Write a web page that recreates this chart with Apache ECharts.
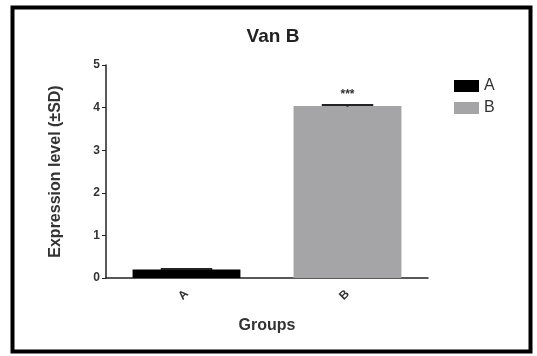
<!DOCTYPE html>
<html><head><meta charset="utf-8">
<script src="https://cdn.jsdelivr.net/npm/echarts@6/dist/echarts.min.js"></script>
<style>html,body{margin:0;padding:0;background:#fff}#c{width:537px;height:356px}</style>
</head><body><div id="c"></div>
<script>
var categories = ['A', 'B'];
var seriesNames = ['A', 'B'];
var means = [0.2, 4.04];
var sds = [0.01, 0.02];
var signif = ['', '***'];
var yTicks = [0, 1, 2, 3, 4, 5];
var colors = ['#000000', '#a5a5a8'];

var chart = echarts.init(document.getElementById('c'));
var FONT = '"Liberation Sans", Arial, sans-serif';
var series = seriesNames.map(function (name, i) {
  var d = categories.map(function (c, j) { return j === i ? means[j] : '-'; });
  return {
    name: name, type: 'bar', stack: 'g', data: d, barWidth: '67%',
    itemStyle: { color: colors[i] }
  };
});
series.push({
  type: 'custom', name: 'err', z: 5, silent: true,
  data: categories.map(function (c, j) { return [j, means[j], sds[j], signif[j]]; }),
  renderItem: function (params, api) {
    var j = api.value(0), m = api.value(1), s = api.value(2);
    var hi = api.coord([j, m + s]);
    var lo = api.coord([j, m - s]);
    var halfW = api.size([1, 0])[0] * 0.16;
    var children = [
      { type: 'line', shape: { x1: hi[0] - halfW, y1: hi[1], x2: hi[0] + halfW, y2: hi[1] }, style: { stroke: '#222', lineWidth: 2 } },
      { type: 'line', shape: { x1: hi[0], y1: hi[1], x2: lo[0], y2: lo[1] }, style: { stroke: '#222', lineWidth: 2 } }
    ];
    var txt = signif[j];
    if (txt) {
      children.push({ type: 'text', x: hi[0], y: hi[1] - 10, style: { text: txt, font: 'bold 12px ' + FONT, fill: '#333', align: 'center', verticalAlign: 'middle' } });
    }
    return { type: 'group', children: children };
  }
});

chart.setOption({
  animation: false,
  title: { text: 'Van B', left: 268, top: 22, textAlign: 'center', textStyle: { fontFamily: FONT, fontSize: 19, fontWeight: 'bold', color: '#222' } },
  legend: {
    data: seriesNames, orient: 'vertical', left: 449, top: 73, itemWidth: 25, itemHeight: 12, itemGap: 6,
    icon: 'rect', textStyle: { fontFamily: FONT, fontSize: 16, color: '#333' }
  },
  grid: { left: 106, right: 109, top: 65, bottom: 78 },
  xAxis: {
    type: 'category', data: categories, name: 'Groups', nameLocation: 'middle', nameGap: 40,
    nameTextStyle: { fontFamily: FONT, fontSize: 16, fontWeight: 'bold', color: '#333' },
    axisLine: { lineStyle: { color: '#222', width: 1.5 } },
    axisTick: { alignWithLabel: true, length: 5, lineStyle: { color: '#222' } },
    axisLabel: { rotate: 45, fontFamily: FONT, fontSize: 12, fontWeight: 'bold', color: '#333', margin: 14 }
  },
  yAxis: {
    type: 'value', min: 0, max: 5, interval: 1, name: 'Expression level (±SD)', nameLocation: 'middle', nameGap: 42,
    nameTextStyle: { fontFamily: FONT, fontSize: 16, fontWeight: 'bold', color: '#333' },
    axisLine: { show: true, lineStyle: { color: '#222', width: 1.5 } },
    axisTick: { show: true, length: 4, lineStyle: { color: '#222' } },
    splitLine: { show: false },
    axisLabel: { fontFamily: FONT, fontSize: 12, fontWeight: 'bold', color: '#333', margin: 6,
      formatter: function (v) { return yTicks.indexOf(v) >= 0 ? String(v) : ''; } }
  },
  graphic: [{ type: 'rect', left: 10, top: 5, shape: { width: 518, height: 344 }, style: { fill: 'none', stroke: '#000', lineWidth: 4 }, z: 100 }],
  series: series
});
</script></body></html>
